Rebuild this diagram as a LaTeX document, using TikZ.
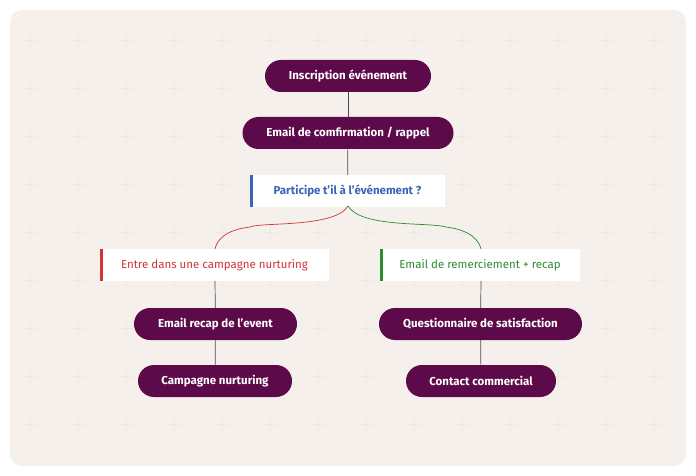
\documentclass[tikz,border=0pt]{standalone}
\usepackage{fontspec}
\setmainfont{Fira Sans}
\definecolor{plum}{HTML}{5C0A4A}
\definecolor{bgcard}{HTML}{F5F0EB}
\definecolor{plus}{HTML}{EEE7E0}
\definecolor{qblue}{HTML}{3A64B8}
\definecolor{qred}{HTML}{D03535}
\definecolor{qgreen}{HTML}{2E8B2E}
\begin{document}
\begin{tikzpicture}[x=1pt,y=-1pt,
  pill/.style={rounded corners=16pt,fill=plum,text=white,font=\fontsize{11.5}{13}\selectfont,minimum height=32pt,inner xsep=4pt},
  card/.style={fill=white,font=\fontsize{11.5}{13}\selectfont,minimum height=32pt,inner sep=0pt},
  link/.style={draw=black!70,line width=0.7pt}]
\useasboundingbox (0,0) rectangle (696,476);
\fill[white] (0,0) rectangle (696,476);
\fill[bgcard,rounded corners=12pt] (10,10) rectangle (686,466);
\foreach \i in {0,...,13}{\foreach \j in {0,...,8}{
  \draw[plus,line width=0.8pt] (30+48*\i-6,40+48*\j) -- +(12,0) (30+48*\i,40+48*\j-6) -- +(0,12);}}
\node[pill,minimum width=166pt] (ins) at (348,76) {\bfseries Inscription événement};
\node[pill,minimum width=211pt] (conf) at (348,133) {\bfseries Email de comfirmation / rappel};
\node[card,minimum width=195pt,text=qblue] (q) at (347.5,191) {\bfseries Participe t’il à l’événement ?};
\fill[qblue] (q.north west) rectangle ([xshift=3pt]q.south west);
\node[card,minimum width=229pt,text=qred] (no) at (214.5,265) {Entre dans une campagne nurturing};
\fill[qred] (no.north west) rectangle ([xshift=3pt]no.south west);
\node[card,minimum width=200pt,text=qgreen] (yes) at (480,265) {Email de remerciement + recap};
\fill[qgreen] (yes.north west) rectangle ([xshift=3pt]yes.south west);
\node[pill,minimum width=163pt] (recap) at (215.5,324) {\bfseries Email recap de l’event};
\node[pill,minimum width=154pt] (camp) at (215,381) {\bfseries Campagne nurturing};
\node[pill,minimum width=203pt] (quest) at (480.5,324) {\bfseries Questionnaire de satisfaction};
\node[pill,minimum width=150pt] (cont) at (481,381) {\bfseries Contact commercial};
\draw[link] (ins) -- (conf);
\draw[link] (conf) -- (q);
\coordinate (qs) at (348,206);
\coordinate (nt) at (215,249);
\coordinate (yt) at (481,249);
\draw[qred,line width=0.7pt] (qs) .. controls (335,228) and (260,222) .. (250,227) .. controls (225,230) and (217,240) .. (nt);
\draw[qgreen,line width=0.7pt] (qs) .. controls (361,228) and (430,222) .. (446,227) .. controls (470,230) and (479,240) .. (yt);
\coordinate (nb) at (215,281);
\coordinate (yb) at (481,281);
\draw[link] (nb) -- (recap);
\draw[link] (recap) -- (camp);
\draw[link] (yb) -- (quest);
\draw[link] (quest) -- (cont);
\end{tikzpicture}
\end{document}
